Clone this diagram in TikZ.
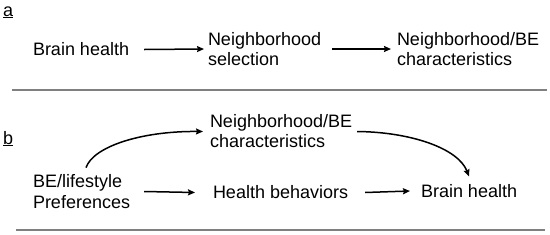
\documentclass[tikz,border=0pt]{standalone}
\usepackage{fontspec}
\setmainfont{Liberation Sans}
\usetikzlibrary{arrows.meta}
\begin{document}
\begin{tikzpicture}[x=1pt,y=-1pt,
  lbl/.style={inner sep=0pt,outer sep=0pt,anchor=west,align=left,font=\fontsize{18}{20.5}\selectfont},
  tag/.style={inner sep=0pt,outer sep=0pt,anchor=base west,font=\fontsize{18}{20.5}\selectfont},
  arr/.style={line width=1.5pt,-{Stealth[length=7pt,width=6pt,inset=1pt]}},
  sep/.style={line width=1.3pt,draw=black!50}]
\fill[white] (0,0) rectangle (550,234);
\useasboundingbox (0,0) rectangle (550,234);
% panel a
\node[tag] (ta) at (3,16) {\underline{a}};
\node[lbl] (bha) at (33,49.5) {Brain health};
\node[lbl] (ns) at (208,49) {Neighborhood\\selection};
\node[lbl] (nbea) at (397,49) {Neighborhood/BE\\characteristics};
\draw[arr] ([xshift=15pt]bha.east) -- ([xshift=-4pt]ns.west);
\draw[arr] ([xshift=11pt]ns.east) -- ([xshift=-6pt]nbea.west);
\coordinate (s1a) at (12,90);
\coordinate (s1b) at (547,90);
\draw[sep] (s1a) -- (s1b);
% panel b
\node[tag] (tb) at (3,144) {\underline{b}};
\node[lbl] (pref) at (33,191.5) {BE/lifestyle\\Preferences};
\node[lbl] (nbeb) at (210,131) {Neighborhood/BE\\characteristics};
\node[lbl] (hb) at (213,192.5) {Health behaviors};
\node[lbl] (bhb) at (421,191) {Brain health};
\draw[arr] ([xshift=14pt]pref.east) -- ([xshift=-18pt]hb.west);
\draw[arr] ([xshift=17pt]hb.east) -- ([xshift=-11pt]bhb.west);
\draw[arr] ([xshift=4.5pt,yshift=7pt]pref.north) .. controls (93,147) and (140,131) .. ([xshift=-7pt,yshift=-0.5pt]nbeb.west);
\draw[arr] ([xshift=5pt,yshift=-0.5pt]nbeb.east) .. controls (410,132) and (458,148) .. ([yshift=8pt]bhb.north);
\coordinate (s2a) at (16,230);
\coordinate (s2b) at (545,230);
\draw[sep] (s2a) -- (s2b);
\end{tikzpicture}
\end{document}
